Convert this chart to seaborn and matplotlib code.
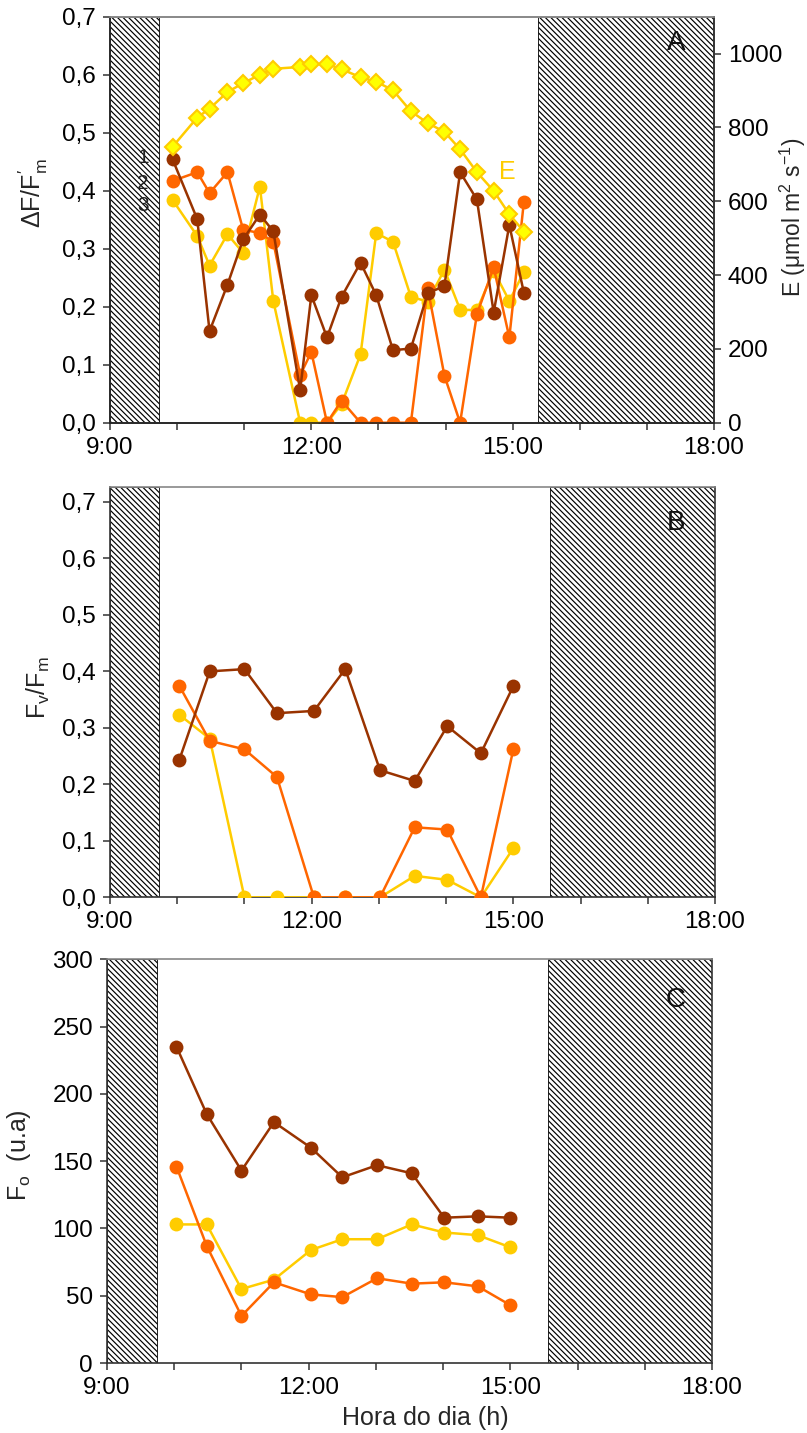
import matplotlib
matplotlib.use("Agg")
import matplotlib.pyplot as plt
import numpy as np
import pandas as pd
import seaborn as sns

# ---- measurement times ----
times_a = ["9:56", "10:18", "10:29", "10:45", "10:59", "11:14", "11:26", "11:50",
           "12:00", "12:14", "12:27", "12:44", "12:58", "13:13", "13:29", "13:44",
           "13:59", "14:13", "14:28", "14:43", "14:57", "15:10"]
times_bc = ["10:02", "10:29", "11:00", "11:29", "12:02", "12:30", "13:01", "13:32",
            "14:01", "14:31", "15:00"]

# ---- panel A: effective quantum yield and irradiance ----
yield_1 = [0.454, 0.351, 0.158, 0.238, 0.316, 0.359, 0.330, 0.056, 0.220, 0.147, 0.217,
           0.276, 0.220, 0.125, 0.128, 0.223, 0.236, 0.432, 0.385, 0.190, 0.341, 0.224]
yield_2 = [0.417, 0.432, 0.396, 0.432, 0.333, 0.327, 0.312, 0.082, 0.122, 0.0, 0.038,
           0.0, 0.0, 0.0, 0.0, 0.232, 0.081, 0.0, 0.187, 0.268, 0.147, 0.381]
yield_3 = [0.384, 0.322, 0.271, 0.325, 0.293, 0.407, 0.210, 0.0, 0.0, 0.0, 0.032,
           0.118, 0.327, 0.312, 0.217, 0.209, 0.264, 0.195, 0.194, 0.262, 0.210, 0.260]
irradiance = [748, 827, 851, 896, 920, 943, 959, 964, 971, 972, 958, 936, 924, 901,
              844, 812, 788, 741, 679, 628, 565, 518]

# ---- panel B: maximum quantum yield ----
fvfm_1 = [0.244, 0.400, 0.404, 0.326, 0.330, 0.404, 0.225, 0.206, 0.303, 0.255, 0.374]
fvfm_2 = [0.374, 0.277, 0.262, 0.213, 0.0, 0.0, 0.0, 0.124, 0.120, 0.0, 0.262]
fvfm_3 = [0.323, 0.281, 0.0, 0.0, 0.0, 0.0, 0.0, 0.038, 0.031, 0.0, 0.087]

# ---- panel C: minimum fluorescence ----
fo_1 = [235, 185, 143, 179, 160, 138, 147, 141, 108, 109, 108]
fo_2 = [146, 87, 35, 60, 51, 49, 63, 59, 60, 57, 43]
fo_3 = [103, 103, 55, 62, 84, 92, 92, 103, 97, 95, 86]

# ---- axis ticks and labels ----
hour_ticks = list(range(9, 19))
hour_labels = ["9:00", "", "", "12:00", "", "", "15:00", "", "", "18:00"]
yield_ticks = [0.0, 0.1, 0.2, 0.3, 0.4, 0.5, 0.6, 0.7]
yield_labels = ["0,0", "0,1", "0,2", "0,3", "0,4", "0,5", "0,6", "0,7"]
irr_ticks = [0, 200, 400, 600, 800, 1000]
fo_ticks = [0, 50, 100, 150, 200, 250, 300]

# dark periods (hatched)
dark_a = [("9:00", "9:44"), ("15:23", "18:00")]
dark_b = [("9:00", "9:44"), ("15:33", "18:00")]
dark_c = [("9:00", "9:45"), ("15:34", "18:00")]

series_names = ["1", "2", "3"]
colors = ["#993300", "#FF6600", "#FFCC00"]
e_line = "#FFCC00"
e_face = "#FFFF00"


def to_hours(t):
    h, m = t.split(":")
    return int(h) + int(m) / 60.0


sns.set_theme(style="ticks")
plt.rcParams["font.family"] = ["Liberation Sans", "DejaVu Sans"]
plt.rcParams["mathtext.fontset"] = "custom"
plt.rcParams["mathtext.rm"] = "Liberation Sans"
plt.rcParams["mathtext.it"] = "Liberation Sans:italic"
plt.rcParams["mathtext.default"] = "regular"
plt.rcParams["hatch.linewidth"] = 0.85
plt.rcParams["axes.linewidth"] = 1.2

FS = 17.5      # tick labels
FL = 18        # axis labels

fig = plt.figure(figsize=(8.07, 14.33), dpi=100)
ax_a = fig.add_axes([0.1363, 0.7050, 0.7485, 0.2833])
ax_b = fig.add_axes([0.1363, 0.3738, 0.7497, 0.2866])
ax_c = fig.add_axes([0.1326, 0.0488, 0.7497, 0.2818])


def style_axis(ax, spans, ylim, yticks, ylabels):
    for start, end in spans:
        ax.axvspan(to_hours(start), to_hours(end), facecolor="white",
                   edgecolor="black", hatch="\\" * 6, linewidth=0.6, zorder=0.5)
    ax.set_xlim(9, 18)
    ax.set_ylim(*ylim)
    ax.set_xticks(hour_ticks)
    ax.set_xticklabels(hour_labels, fontsize=FS)
    ax.set_yticks(yticks)
    ax.set_yticklabels(ylabels, fontsize=FS)
    ax.tick_params(direction="out", length=5, width=1.1, colors="#333333",
                   labelcolor="black", pad=5)
    ax.spines["top"].set_color("#888888")
    ax.spines["right"].set_color("#333333")
    for s in ("left", "bottom"):
        ax.spines[s].set_color("#333333")
    ax.set_xlabel("")
    ax.set_ylabel("")


def set_ylabel_centered(ax, text, x, y, size=FL):
    ax.set_ylabel(text, fontsize=size)
    lab = ax.yaxis.label
    lab.set_rotation_mode("anchor")
    lab.set_verticalalignment("center")
    lab.set_horizontalalignment("center")
    ax.yaxis.set_label_coords(x, y)


def draw_series(ax, times, values_list):
    x = [to_hours(t) for t in times]
    for i, (vals, col) in enumerate(zip(values_list, colors)):
        df = pd.DataFrame({"hora": x, "valor": vals})
        sns.lineplot(data=df, x="hora", y="valor", ax=ax, color=col, sort=False,
                     marker="o", markersize=10, markeredgewidth=0, linewidth=1.8,
                     zorder=5 - i)


# ---- Panel A ----
style_axis(ax_a, dark_a, (0, 0.7), yield_ticks, yield_labels)
draw_series(ax_a, times_a, [yield_1, yield_2, yield_3])
set_ylabel_centered(ax_a, r"ΔF/F$_m^{\prime}$", -0.127, 0.566)
ax_a.set_xlabel("")
for name, yv in zip(series_names, [0.458, 0.413, 0.374]):
    ax_a.text(9.49, yv, name, fontsize=15, ha="center", va="center",
              color="#222222", zorder=6)
ax_a.text(0.937, 0.935, "A", transform=ax_a.transAxes, fontsize=20,
          ha="center", va="center", color="#111111", zorder=6)

ax_e = ax_a.twinx()
df_e = pd.DataFrame({"hora": [to_hours(t) for t in times_a], "E": irradiance})
sns.lineplot(data=df_e, x="hora", y="E", ax=ax_e, color=e_line, sort=False,
             marker="D", markersize=8.5, markerfacecolor=e_face,
             markeredgecolor=e_line, markeredgewidth=1.5, linewidth=1.8)
ax_e.set_ylim(0, 1100)
ax_e.set_yticks(irr_ticks)
ax_e.set_yticklabels([str(v) for v in irr_ticks], fontsize=FS)
ax_e.tick_params(direction="out", length=5, width=1.1, colors="#333333",
                 labelcolor="black", pad=5)
ax_e.spines["top"].set_color("#888888")
ax_e.spines["right"].set_color("#333333")
ax_e.set_xlabel("")
set_ylabel_centered(ax_e, r"E (μmol m$^2$ s$^{-1}$)", 1.131, 0.507, size=16.5)
ax_e.text(to_hours("14:55"), 680, "E", fontsize=18, color=e_line,
          ha="center", va="center")

# ---- Panel B ----
style_axis(ax_b, dark_b, (0, 0.727), yield_ticks, yield_labels)
draw_series(ax_b, times_bc, [fvfm_1, fvfm_2, fvfm_3])
set_ylabel_centered(ax_b, r"F$_v$/F$_m$", -0.118, 0.512)
ax_b.set_xlabel("")
ax_b.text(0.936, 0.912, "B", transform=ax_b.transAxes, fontsize=20,
          ha="center", va="center", color="#111111", zorder=6)

# ---- Panel C ----
style_axis(ax_c, dark_c, (0, 300), fo_ticks, [str(v) for v in fo_ticks])
draw_series(ax_c, times_bc, [fo_1, fo_2, fo_3])
set_ylabel_centered(ax_c, r"F$_o$  (u.a)", -0.146, 0.515)
ax_c.set_xlabel("Hora do dia (h)", fontsize=FL)
ax_c.xaxis.label.set_verticalalignment("center")
ax_c.xaxis.set_label_coords(0.526, -0.136)
ax_c.text(0.94, 0.899, "C", transform=ax_c.transAxes, fontsize=20,
          ha="center", va="center", color="#111111", zorder=6)

fig.savefig("out.png", dpi=100)
